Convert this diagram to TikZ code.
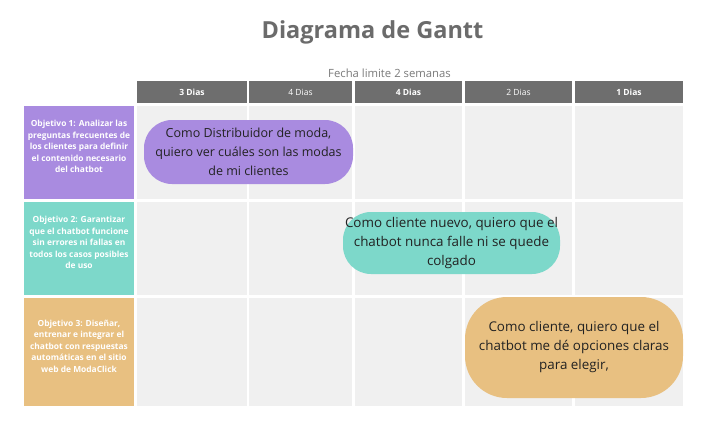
\documentclass[tikz,border=0pt]{standalone}
\usepackage{fontspec}
\setmainfont{Open Sans}
\definecolor{grisTitulo}{HTML}{6B6B6B}
\definecolor{grisCab}{HTML}{6E6E6E}
\definecolor{grisCelda}{HTML}{F0F0F0}
\definecolor{morado}{HTML}{A98BE0}
\definecolor{turquesa}{HTML}{7DD8CA}
\definecolor{arena}{HTML}{E8C081}
\definecolor{tinta}{HTML}{222222}
\tikzset{
  celda/.style={fill=grisCelda, inner sep=0pt},
  cabecera/.style={fill=grisCab, text=white, inner sep=0pt, minimum height=22pt, font=\fontsize{8.5}{10}\selectfont},
  objetivo/.style={inner sep=0pt, minimum width=110pt},
  objtexto/.style={text=white, align=center, inner sep=0pt, yshift=6pt, font=\bfseries\fontsize{8.4}{11.5}\selectfont},
  barra/.style={inner sep=0pt, text=tinta, align=center, font=\fontsize{12.5}{19}\selectfont}
}
\begin{document}
\begin{tikzpicture}[x=1pt, y=-1pt]
			\useasboundingbox[fill=white] (0,0) rectangle (718,436);
			% titulo
			\node[text=grisTitulo, font=\bfseries\fontsize{23.5}{28}\selectfont] (titulo) at (372.5,32) {Diagrama de Gantt};
			\node[text=grisTitulo!90, font=\fontsize{11.3}{13}\selectfont] (fecha) at (389.5,73) {Fecha limite 2 semanas};
			% cabecera de dias
			\node[cabecera, minimum width=110pt, font=\bfseries\fontsize{8.5}{10}\selectfont] (d1) at (192,92) {3 Dias};
			\node[cabecera, minimum width=103pt] (d2) at (300.5,92) {4 Dias};
			\node[cabecera, minimum width=107pt, font=\bfseries\fontsize{8.5}{10}\selectfont] (d3) at (408.5,92) {4 Dias};
			\node[cabecera, minimum width=107pt] (d4) at (518.5,92) {2 Dias};
			\node[cabecera, minimum width=108pt, font=\bfseries\fontsize{8.5}{10}\selectfont] (d5) at (629,92) {1 Dias};
			% celdas
			\foreach \cx/\cw [count=\i] in {192/110, 300.5/103, 408.5/107, 518.5/107, 629/108}
				\foreach \cy/\ch [count=\j] in {152.5/93, 248.5/93, 352/108}
					\node[celda, minimum width=\cw pt, minimum height=\ch pt] (c\j\i) at (\cx,\cy) {};
			% objetivos
			\node[objetivo, fill=morado, minimum height=93pt, label={[objtexto]center:Objetivo 1: Analizar las\\preguntas frecuentes de\\los clientes para definir\\el contenido necesario\\del chatbot}] (obj1) at (79,152.5) {};
			\node[objetivo, fill=turquesa, minimum height=93pt, label={[objtexto]center:Objetivo 2: Garantizar\\que el chatbot funcione\\sin errores ni fallas en\\todos los casos posibles\\de uso}] (obj2) at (79,248.5) {};
			\node[objetivo, fill=arena, minimum height=108pt, label={[objtexto]center:Objetivo 3: Diseñar,\\entrenar e integrar el\\chatbot con respuestas\\automáticas en el sitio\\web de ModaClick}] (obj3) at (79,352) {};
			% barras
			\node[barra, fill=morado, rounded corners=28pt, minimum width=209pt, minimum height=64pt] (barra1) at (248.5,152) {Como Distribuidor de moda,\\quiero ver cuáles son las modas\\de mi clientes};
			\node[barra, fill=turquesa, rounded corners=28pt, minimum width=217pt, minimum height=62pt, font=\fontsize{13.4}{19}\selectfont] (barra2) at (451.5,243) {Como cliente nuevo, quiero que el\\chatbot nunca falle ni se quede\\colgado};
			\node[barra, fill=arena, rounded corners=42pt, minimum width=218pt, minimum height=101pt, font=\fontsize{13.4}{19}\selectfont] (barra3) at (574,347.5) {Como cliente, quiero que el\\chatbot me dé opciones claras\\para elegir,};
		\end{tikzpicture}
\end{document}
